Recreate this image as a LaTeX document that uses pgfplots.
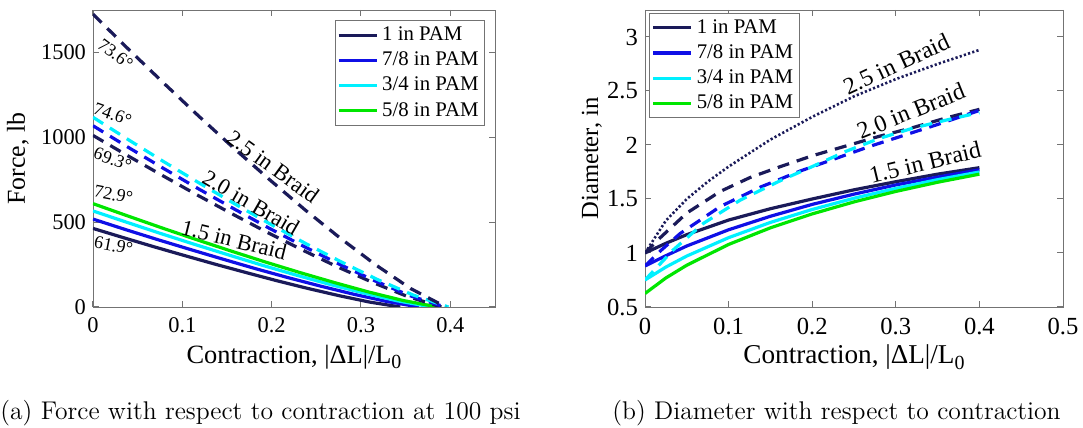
\documentclass[border=0pt]{standalone}
\usepackage{fontspec}
\setmainfont{Liberation Serif}
\newfontfamily\lmr{Latin Modern Roman}
\usepackage{pgfplots}
\pgfplotsset{compat=1.18}

\definecolor{cnavy}{RGB}{26,26,89}
\definecolor{cblue}{RGB}{15,15,230}
\definecolor{ccyan}{RGB}{0,240,255}
\definecolor{cgreen}{RGB}{0,230,0}

\newcommand{\contr}{Contraction, |ΔL|/L\raisebox{-0.45ex}{\fontsize{10}{10}\selectfont 0}}

\pgfplotsset{
  pam/.style={
    scale only axis,
    height=148.5pt,
    axis line style={black!55},
    tick style={black!55, line width=0.5pt},
    tick align=inside,
    tick pos=both,
    major tick length=3pt,
    /pgf/number format/assume math mode=true,
    /pgf/number format/1000 sep={},
    xticklabel={\pgfmathprintnumber{\tick}},
    yticklabel={\pgfmathprintnumber{\tick}},
    xticklabel style={yshift=-2pt},
    legend cell align=left,
    legend style={draw=black!55, fill=white, inner sep=1pt, row sep=0.2pt,
      font=\fontsize{10.4}{11}\selectfont},
    legend image code/.code={\draw[##1] (0pt,0pt) -- (19pt,0pt);},
  },
  sol/.style={line width=1.6pt},
  das/.style={line width=1.6pt, dash pattern=on 6pt off 4pt},
}

\begin{document}
\begin{tikzpicture}
\path[use as bounding box] (0,0) rectangle (541.5pt,214pt);

% ---------------- (a) force ----------------
\begin{axis}[pam,
  at={(46.5pt,60.5pt)}, anchor=south west,
  width=201pt,
  xmin=0, xmax=0.45, ymin=0, ymax=1750,
  xtick={0,0.1,0.2,0.3,0.4},
  ytick={0,500,1000,1500},
  tick label style={font=\fontsize{11.2}{12}\selectfont},
  xlabel={\contr},
  xlabel style={at={(axis description cs:0.5,-0.19)}, anchor=base, font=\fontsize{13.2}{14}\selectfont},
  ylabel={Force, lb},
  ylabel style={at={(axis description cs:-0.187,0.5)}, anchor=center, font=\fontsize{12.9}{14}\selectfont},
  legend style={at={(0.975,0.965)}, anchor=north east},
]
% 1.5 in braid (solid)
\addplot[sol, cnavy] coordinates {(0,463) (0.0344,408) (0.0688,354) (0.1032,302) (0.1376,251) (0.172,202) (0.2064,154) (0.2408,109) (0.2752,67) (0.3096,29) (0.344,0)};
\addlegendentry{1 in PAM}
\addplot[sol, cblue] coordinates {(0,518) (0.0365,456) (0.073,396) (0.1095,338) (0.146,281) (0.1825,225) (0.219,172) (0.2555,122) (0.292,75) (0.3285,33) (0.365,0)};
\addlegendentry{7/8 in PAM}
\addplot[sol, ccyan] coordinates {(0,566) (0.0379,499) (0.0758,433) (0.1137,369) (0.1516,307) (0.1895,246) (0.2274,188) (0.2653,133) (0.3032,82) (0.3411,36) (0.379,0)};
\addlegendentry{3/4 in PAM}
\addplot[sol, cgreen] coordinates {(0,609) (0.0386,537) (0.0772,466) (0.1158,397) (0.1544,330) (0.193,265) (0.2316,203) (0.2702,144) (0.3088,88) (0.3474,38) (0.386,0)};
\addlegendentry{5/8 in PAM}
% 2.0 in braid (dashed)
\addplot[das, cnavy, forget plot] coordinates {(0,1011) (0.039,891) (0.078,774) (0.117,659) (0.156,548) (0.195,440) (0.234,337) (0.273,238) (0.312,147) (0.351,64) (0.39,0)};
\addplot[das, cblue, forget plot] coordinates {(0,1068) (0.0394,941) (0.0788,817) (0.1182,696) (0.1576,579) (0.197,465) (0.2364,356) (0.2758,252) (0.3152,155) (0.3546,67) (0.394,0)};
\addplot[das, ccyan, forget plot] coordinates {(0,1118) (0.0398,985) (0.0796,855) (0.1194,729) (0.1592,606) (0.199,487) (0.2388,372) (0.2786,264) (0.3184,162) (0.3582,71) (0.398,0)};
% 2.5 in braid (dashed)
\addplot[das, cnavy, forget plot] coordinates {(0,1725) (0.0395,1520) (0.079,1320) (0.1185,1124) (0.158,934) (0.1975,751) (0.237,574) (0.2765,407) (0.316,250) (0.3555,109) (0.395,0)};

\node[rotate=-36, font=\fontsize{11.3}{12}\selectfont] at (0.2016,827) {2.5 in Braid};
\node[rotate=-30, font=\fontsize{11.3}{12}\selectfont] at (0.177,615) {2.0 in Braid};
\node[rotate=-14, font=\fontsize{11.3}{12}\selectfont] at (0.158,396) {1.5 in Braid};
\node[rotate=-37, font=\fontsize{9}{10}\selectfont] at (0.025,1490) {73.6°};
\node[rotate=-20, font=\fontsize{9}{10}\selectfont] at (0.022,1135) {74.6°};
\node[rotate=-21, font=\fontsize{9}{10}\selectfont] at (0.022,870) {69.3°};
\node[rotate=-11, font=\fontsize{9}{10}\selectfont] at (0.023,662) {72.9°};
\node[rotate=-11, font=\fontsize{9}{10}\selectfont] at (0.023,362) {61.9°};
\end{axis}

% ---------------- (b) diameter ----------------
\begin{axis}[pam,
  at={(322.5pt,60.5pt)}, anchor=south west,
  width=209pt,
  xmin=0, xmax=0.5, ymin=0.5, ymax=3.25,
  xtick={0,0.1,0.2,0.3,0.4,0.5},
  ytick={0.5,1,1.5,2,2.5,3},
  tick label style={font=\fontsize{12.3}{13}\selectfont},
  xlabel={\contr},
  xlabel style={at={(axis description cs:0.5,-0.19)}, anchor=base, font=\fontsize{13.6}{14}\selectfont},
  ylabel={Diameter, in},
  ylabel style={at={(axis description cs:-0.127,0.5)}, anchor=center, font=\fontsize{12.3}{13}\selectfont},
  legend style={at={(0.01,0.99)}, anchor=north west},
]
\addplot[sol, cnavy] coordinates {(0,1.0) (0.025,1.09) (0.05,1.17) (0.1,1.305) (0.15,1.41) (0.2,1.50) (0.25,1.585) (0.3,1.66) (0.35,1.73) (0.4,1.79)};
\addlegendentry{1 in PAM}
\addplot[sol, cblue] coordinates {(0,0.88) (0.025,0.975) (0.05,1.065) (0.1,1.215) (0.15,1.34) (0.2,1.45) (0.25,1.545) (0.3,1.63) (0.35,1.703) (0.4,1.77)};
\addlegendentry{7/8 in PAM}
\addplot[sol, ccyan] coordinates {(0,0.75) (0.025,0.87) (0.05,0.972) (0.1,1.142) (0.15,1.283) (0.2,1.403) (0.25,1.507) (0.3,1.598) (0.35,1.679) (0.4,1.75)};
\addlegendentry{3/4 in PAM}
\addplot[sol, cgreen] coordinates {(0,0.625) (0.025,0.769) (0.05,0.887) (0.1,1.079) (0.15,1.233) (0.2,1.362) (0.25,1.473) (0.3,1.570) (0.35,1.655) (0.4,1.73)};
\addlegendentry{5/8 in PAM}
% 2.0 in braid (dashed)
\addplot[das, cnavy, forget plot] coordinates {(0,1.0) (0.018,1.14) (0.05,1.37) (0.09,1.57) (0.126,1.70) (0.162,1.80) (0.2,1.90) (0.24,1.99) (0.28,2.08) (0.32,2.16) (0.36,2.25) (0.4,2.33)};
\addplot[das, cblue, forget plot] coordinates {(0,0.88) (0.02,1.03) (0.042,1.18) (0.09,1.43) (0.138,1.61) (0.186,1.76) (0.23,1.88) (0.27,1.99) (0.31,2.09) (0.35,2.19) (0.4,2.32)};
\addplot[das, ccyan, forget plot] coordinates {(0,0.75) (0.034,1.03) (0.07,1.275) (0.114,1.49) (0.162,1.67) (0.2,1.80) (0.24,1.94) (0.28,2.06) (0.32,2.155) (0.36,2.23) (0.4,2.30)};
% 2.5 in braid (dotted)
\addplot[cnavy, line width=1.3pt, dash pattern=on 1.1pt off 1.1pt, forget plot] coordinates {(0,1.0) (0.01,1.12) (0.025,1.3) (0.05,1.5) (0.075,1.66) (0.1,1.8) (0.15,2.05) (0.2,2.26) (0.25,2.45) (0.3,2.61) (0.35,2.75) (0.4,2.88)};

\node[rotate=25, font=\fontsize{12}{13}\selectfont] at (0.3006,2.75) {2.5 in Braid};
\node[rotate=22, font=\fontsize{12}{13}\selectfont] at (0.318,2.315) {2.0 in Braid};
\node[rotate=13.5, font=\fontsize{12}{13}\selectfont] at (0.335,1.838) {1.5 in Braid};
\end{axis}

% captions
\node[anchor=base west, inner sep=0pt, font=\lmr\fontsize{12.8}{14}\selectfont] at (0pt,4pt) {(a) Force with respect to contraction at 100 psi};
\node[anchor=base west, inner sep=0pt, font=\lmr\fontsize{12.8}{14}\selectfont] at (306pt,4pt) {(b) Diameter with respect to contraction};
\end{tikzpicture}
\end{document}
